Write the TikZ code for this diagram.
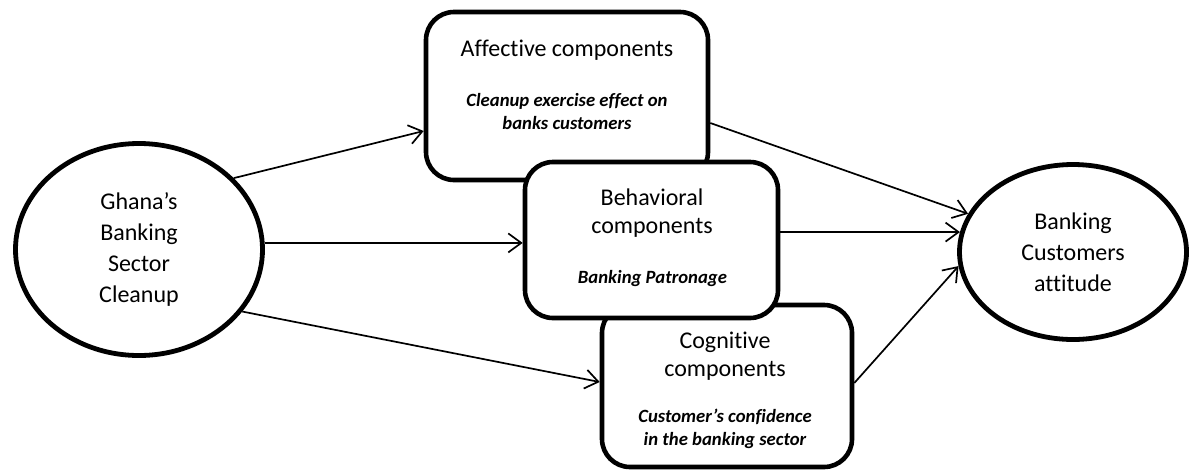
\documentclass[tikz,border=0pt]{standalone}
\usepackage{fontspec}
\setmainfont{Carlito}[Ligatures=NoCommon]
\usetikzlibrary{arrows.meta,shapes.geometric}
\begin{document}
\begin{tikzpicture}[x=1pt,y=-1pt,
  oval/.style={ellipse,draw,line width=4.8pt,fill=white,inner sep=0pt,align=center,font=\fontsize{24}{31}\selectfont},
  comp/.style={rectangle,draw,line width=4.6pt,rounded corners=28pt,fill=white,inner sep=0pt},
  title/.style={align=center,font=\fontsize{24}{28}\selectfont,inner sep=0pt},
  sub/.style={align=center,font=\fontsize{18.7}{22.5}\selectfont\bfseries\itshape,inner sep=0pt},
  arr/.style={line width=1.7pt,-{Straight Barb[length=13pt,width=19pt]}}]
\useasboundingbox (0,0) rectangle (1191,472);
% ellipses
\node[oval,minimum width=247pt,minimum height=212pt] (L) at (139,249.5) {Ghana’s\\Banking\\Sector\\Cleanup};
\node[oval,minimum width=227pt,minimum height=175pt] (R) at (1073,252) {Banking\\Customers\\attitude};
% boxes (order gives the overlaps)
\node[comp,minimum width=282pt,minimum height=168pt] (A) at (567,96) {};
\node[comp,minimum width=250pt,minimum height=162pt] (C) at (727,386) {};
\node[comp,minimum width=253pt,minimum height=156pt] (B) at (651.5,240) {};
% texts
\node[title] (At) at (567,50) {Affective components};
\node[sub] (As) at (567,111.5) {Cleanup exercise effect on\\banks customers};
\node[title] (Bt) at (652,213.5) {Behavioral\\components};
\node[sub] (Bs) at (652.5,279) {Banking Patronage};
\node[title] (Ct) at (725,356.5) {Cognitive\\components};
\node[sub] (Cs) at (725,429) {Customer’s confidence\\in the banking sector};
% connectors
\draw[arr] (L.37.6) -- ([yshift=-35pt]A.west);
\draw[arr] (L.3) -- (L.3 -| B.west);
\draw[arr] (L.-31) -- ([yshift=4pt]C.west);
\draw[arr] ([yshift=-27pt]A.east) -- (R.160);
\draw[arr] (B.east |- R.170) -- (R.170);
\draw[arr] ([yshift=3pt]C.east) -- (R.187);
\end{tikzpicture}
\end{document}
